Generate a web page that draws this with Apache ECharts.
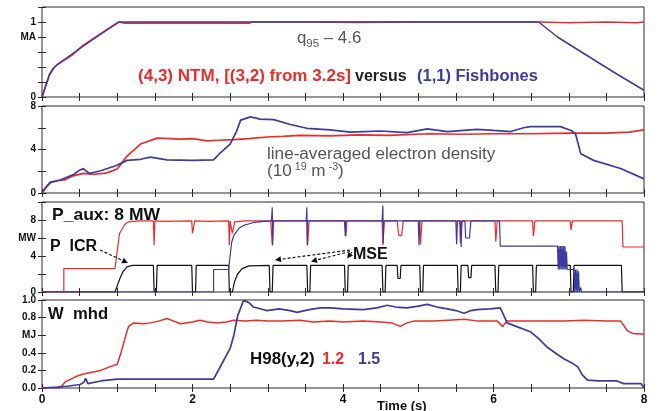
<!DOCTYPE html>
<html><head><meta charset="utf-8">
<script src="https://cdn.jsdelivr.net/npm/echarts@6/dist/echarts.min.js"></script>
<style>html,body{margin:0;padding:0;background:#fff}#c{width:659px;height:411px}</style>
</head><body><div id="c"></div>
<script>
// ---------- DATA ----------
const xTickLabels = [[0,'0'],[2,'2'],[4,'4'],[6,'6'],[8,'8']];
const yLabelsIp = [[0,'0'],[0.8,'MA'],[1,'1']];
const yLabelsNe = [[0,'0'],[4,'4'],[8,'8']];
const yLabelsP  = [[0,'0'],[4,'4'],[6,'MW'],[8,'8']];
const yLabelsW  = [[0,'0.0'],[0.2,'0.2'],[0.4,'0.4'],[0.6,'MJ'],[0.8,'0.8'],[1,'1.0']];

// Plasma current (MA)
const ipRed = [[0,0],[0.02,0.02],[0.06,0.18],[0.1,0.3],[0.15,0.38],[0.2,0.43],[0.4,0.56],[0.55,0.69],[0.7,0.79],[0.85,0.89],[1.02,1.0],[1.1,0.985],[1.8,0.985],[2.75,0.985],[2.8,1.0],[3.5,1.0],[4.2,0.995],[5.0,1.0],[6.0,1.0],[6.6,1.0],[7.0,0.99],[7.5,1.0],[7.9,0.99],[8,1.0]];
const ipBlue = [[0,0],[0.02,0.02],[0.06,0.18],[0.1,0.3],[0.15,0.38],[0.2,0.43],[0.55,0.68],[1.02,1.0],[2.0,1.0],[3.0,1.0],[4.0,1.0],[5.0,1.0],[6.0,1.0],[6.6,1.0],[6.85,0.8],[7.2,0.58],[7.6,0.33],[8,0.09]];

// Line-averaged electron density (1e19 m^-3)
const neRed = [[0,0],[0.05,0.5],[0.11,1.0],[0.22,1.15],[0.3,1.2],[0.4,1.55],[0.55,1.8],[0.69,1.7],[0.86,1.85],[1.0,2.2],[1.13,3.4],[1.31,4.5],[1.53,5.05],[1.7,5.0],[1.84,4.95],[2.0,5.0],[2.19,4.8],[2.35,4.85],[2.55,4.9],[2.75,5.0],[2.99,5.15],[3.2,5.2],[3.43,5.3],[3.83,5.25],[4.2,5.35],[4.6,5.3],[5.16,5.45],[5.6,5.4],[6.0,5.45],[6.49,5.45],[7.03,5.5],[7.5,5.5],[7.8,5.6],[8,5.8]];
const neBlue = [[0,0],[0.05,0.5],[0.11,0.95],[0.24,1.2],[0.42,1.7],[0.5,2.1],[0.55,2.25],[0.6,1.95],[0.64,1.8],[0.78,2.05],[0.98,2.5],[1.13,3.0],[1.31,3.1],[1.44,3.3],[1.66,3.05],[2.0,3.0],[2.28,3.05],[2.37,3.7],[2.5,4.5],[2.58,5.6],[2.64,6.7],[2.77,7.0],[2.9,6.8],[3.08,6.75],[3.3,6.3],[3.52,5.95],[3.83,5.8],[4.1,5.6],[4.5,5.7],[4.85,5.55],[5.12,5.9],[5.39,5.65],[5.78,5.85],[6.0,5.75],[6.23,5.65],[6.4,6.0],[6.49,6.1],[6.89,6.1],[7.03,5.75],[7.09,5.45],[7.16,3.6],[7.33,3.0],[7.69,2.25],[8,1.3]];

// Auxiliary heating power (MW)
const pauxRed = [[0,0],[0.29,0],[0.29,2.6],[0.97,2.6],[1.03,6.5],[1.1,7.5],[1.15,7.8],[1.3,7.9],[1.48,7.9],[1.49,5.2],[1.5,7.9],[1.6,7.85],[1.99,7.9],[2.0,6.5],[2.03,7.9],[2.2,7.85],[2.48,7.9],[2.49,5.2],[2.5,7.9],[2.53,6.5],[2.56,7.8],[2.7,7.9],[3.04,7.9],[3.06,5.2],[3.08,7.9],[3.52,7.9],[3.53,5.2],[3.55,7.9],[4.03,7.9],[4.04,6.2],[4.05,7.9],[4.52,7.9],[4.53,5.2],[4.55,7.9],[4.72,7.9],[4.74,6.3],[4.78,6.3],[4.8,7.9],[5.02,7.9],[5.03,5.3],[5.05,7.9],[5.55,7.9],[5.56,5.5],[5.58,7.9],[6.02,7.9],[6.03,5.6],[6.05,7.9],[6.52,7.9],[6.53,6.2],[6.55,7.9],[7.02,7.9],[7.03,6.9],[7.05,7.9],[7.71,7.9],[7.72,5.0],[8,5.0]];
const pauxBlue = [[0,0],[2.28,0],[2.28,2.5],[2.48,2.5],[2.52,5.5],[2.55,6.3],[2.62,7.1],[2.68,7.4],[2.8,7.7],[2.95,7.85],[3.05,7.9],[3.06,9.4],[3.065,5.2],[3.07,7.9],[3.51,7.9],[3.52,9.4],[3.525,5.2],[3.53,7.9],[4.02,7.9],[4.03,6.2],[4.04,7.9],[4.52,7.9],[4.53,9.6],[4.535,5.4],[4.54,7.9],[5.0,7.9],[5.01,5.2],[5.02,7.9],[5.5,7.9],[5.51,5.3],[5.52,7.9],[5.56,7.9],[5.57,5.0],[5.58,7.9],[5.62,7.9],[5.63,6.0],[5.68,6.0],[5.7,7.9],[6.08,7.9],[6.09,5.1],[6.85,5.1],[6.86,2.5],[6.87,5.1],[6.88,2.5],[6.89,5.1],[6.9,2.5],[6.91,5.1],[6.92,2.5],[6.93,5.1],[6.94,2.5],[6.95,5.1],[6.96,2.5],[6.97,4.5],[6.98,2.5],[7.07,2.5],[7.08,0],[7.09,2.5],[7.1,0],[7.11,2.5],[7.12,0],[7.13,2.3],[7.14,0],[7.16,0.5],[7.17,0],[8,0]];
const picr = [[0,0],[0.97,0],[1.0,0.7],[1.04,1.6],[1.08,2.3],[1.13,2.8],[1.2,2.95],[1.48,2.95],[1.49,0],[1.52,0],[1.53,2.95],[1.99,2.95],[2.0,0],[2.04,0],[2.05,2.95],[2.48,2.95],[2.49,0],[2.53,0],[2.56,1.2],[2.6,2.0],[2.66,2.6],[2.75,2.9],[3.02,2.95],[3.03,0],[3.06,0],[3.07,2.95],[3.52,2.95],[3.53,0],[3.56,0],[3.57,2.95],[4.02,2.95],[4.03,0],[4.06,0],[4.07,2.95],[4.52,2.95],[4.53,0],[4.56,0],[4.57,2.95],[4.72,2.95],[4.73,1.5],[4.76,1.5],[4.77,2.95],[5.02,2.95],[5.03,0],[5.06,0],[5.07,2.95],[5.52,2.95],[5.53,0],[5.56,0],[5.57,2.95],[5.66,2.95],[5.67,1.6],[5.7,1.6],[5.71,2.95],[6.02,2.95],[6.03,0],[6.06,0],[6.07,2.95],[6.52,2.95],[6.53,0],[6.56,0],[6.57,2.95],[7.02,2.95],[7.03,0],[7.06,0],[7.07,2.95],[7.7,2.95],[7.71,0],[8,0]];

// Stored energy W_mhd (MJ)
const wRed = [[0,0],[0.24,0],[0.31,0.07],[0.45,0.13],[0.55,0.16],[0.78,0.2],[0.9,0.24],[1.0,0.27],[1.06,0.43],[1.12,0.62],[1.15,0.7],[1.22,0.74],[1.35,0.73],[1.44,0.74],[1.55,0.76],[1.66,0.79],[1.75,0.76],[1.84,0.73],[2.0,0.75],[2.1,0.77],[2.2,0.75],[2.33,0.74],[2.45,0.75],[2.55,0.77],[2.7,0.76],[2.85,0.77],[2.99,0.76],[3.2,0.76],[3.43,0.77],[3.6,0.75],[3.83,0.76],[4.0,0.75],[4.27,0.76],[4.5,0.75],[4.65,0.74],[4.76,0.70],[4.85,0.74],[4.94,0.76],[5.2,0.76],[5.4,0.77],[5.61,0.78],[5.8,0.76],[6.05,0.76],[6.12,0.70],[6.18,0.76],[6.4,0.76],[6.7,0.76],[6.94,0.76],[7.2,0.77],[7.5,0.76],[7.69,0.76],[7.78,0.65],[7.85,0.62],[8,0.61]];
const wBlue = [[0,0],[0.2,0.01],[0.33,0.02],[0.51,0.04],[0.56,0.07],[0.58,0.11],[0.61,0.05],[0.78,0.08],[1.0,0.1],[1.5,0.1],[2.0,0.1],[2.28,0.1],[2.35,0.21],[2.5,0.45],[2.55,0.6],[2.6,0.82],[2.68,1.0],[2.75,0.97],[2.81,0.92],[2.9,0.9],[2.99,0.88],[3.15,0.9],[3.3,0.88],[3.39,0.86],[3.55,0.89],[3.7,0.91],[3.83,0.91],[4.0,0.9],[4.27,0.89],[4.45,0.91],[4.59,0.94],[4.7,0.92],[4.85,0.91],[5.0,0.93],[5.12,0.95],[5.25,0.92],[5.39,0.9],[5.5,0.88],[5.61,0.85],[5.7,0.88],[5.78,0.89],[5.95,0.9],[6.09,0.91],[6.15,0.8],[6.18,0.74],[6.3,0.7],[6.49,0.64],[6.6,0.56],[6.72,0.46],[6.85,0.38],[6.94,0.33],[7.05,0.28],[7.12,0.24],[7.18,0.15],[7.25,0.09],[7.4,0.08],[7.64,0.08],[7.73,0.05],[7.96,0.05],[8,0.0]];

// ---------- CHART ----------
const RED = '#ec2b2b', BLUE = '#3b3ba3', BLACK = '#111', FRAME = '#2a2a2a';
const FONT = 'Liberation Sans, Arial, Helvetica, sans-serif';
const chart = echarts.init(document.getElementById('c'), null, {renderer: 'canvas'});

const grids = [
  {left: 42, right: 15, top: 7, height: 90},
  {left: 42, right: 15, top: 106, height: 87},
  {left: 42, right: 15, top: 202, height: 90},
  {left: 42, right: 15, top: 300, height: 88}
].map(g => Object.assign({show: true, borderColor: FRAME, borderWidth: 1, backgroundColor: 'transparent'}, g));

function lookup(list, v) {
  for (const e of list) if (Math.abs(e[0] - v) < 1e-6) return e[1];
  return '';
}
const tick = {show: true, inside: true, length: 4, lineStyle: {color: FRAME, width: 1}};
const xAxes = [], yAxes = [];
for (let i = 0; i < 4; i++) {
  const last = i === 3;
  xAxes.push({type: 'value', gridIndex: i, min: 0, max: 8, interval: 0.5, position: 'bottom',
    axisLine: {show: false}, axisTick: tick, splitLine: {show: false},
    axisLabel: {show: last, formatter: v => lookup(xTickLabels, v), color: BLACK, fontSize: 12, fontFamily: FONT, margin: 6, fontWeight: 'bold'}});
  xAxes.push({type: 'value', gridIndex: i, min: 0, max: 8, interval: 0.5, position: 'top',
    axisLine: {show: false}, axisTick: tick, splitLine: {show: false}, axisLabel: {show: false}});
}
const ySpecs = [
  {min: 0, max: 1.2, interval: 0.2, labels: yLabelsIp},
  {min: 0, max: 8, interval: 2, labels: yLabelsNe},
  {min: 0, max: 10, interval: 2, labels: yLabelsP},
  {min: 0, max: 1, interval: 0.2, labels: yLabelsW}
];
ySpecs.forEach((s, i) => {
  yAxes.push({type: 'value', gridIndex: i, min: s.min, max: s.max, interval: s.interval, position: 'left',
    axisLine: {show: false}, axisTick: tick, splitLine: {show: false},
    axisLabel: {formatter: v => lookup(s.labels, v), color: BLACK, fontSize: 10, fontFamily: FONT, margin: 6, fontWeight: 'bold'}});
  yAxes.push({type: 'value', gridIndex: i, min: s.min, max: s.max, interval: s.interval, position: 'right',
    axisLine: {show: false}, axisTick: tick, splitLine: {show: false}, axisLabel: {show: false}});
});

function ser(data, gi, color, w) {
  return {type: 'line', data: data, xAxisIndex: gi * 2, yAxisIndex: gi * 2, showSymbol: false,
    lineStyle: {color: color, width: w || 1.4}, itemStyle: {color: color}, animation: false, silent: true, z: 3};
}
const series = [
  ser(ipRed, 0, RED, 1.7), ser(ipBlue, 0, BLUE, 1.5),
  ser(neRed, 1, RED, 1.7), ser(neBlue, 1, BLUE, 1.7),
  ser(picr, 2, BLACK, 1.2), ser(pauxRed, 2, RED, 1.2), ser(pauxBlue, 2, BLUE, 1.2),
  ser(wRed, 3, RED, 1.5), ser(wBlue, 3, BLUE, 1.7)
];

// annotation helpers (dashed arrows)
function arrow(x1, y1, x2, y2) {
  const a = Math.atan2(y2 - y1, x2 - x1), L = 6, W = 3;
  const bx = x2 - L * Math.cos(a), by = y2 - L * Math.sin(a);
  const px = -Math.sin(a) * W, py = Math.cos(a) * W;
  return [
    {type: 'line', shape: {x1: x1, y1: y1, x2: bx, y2: by}, style: {stroke: BLACK, lineWidth: 1.2, lineDash: [3, 2]}, z: 10},
    {type: 'polygon', shape: {points: [[x2, y2], [bx + px, by + py], [bx - px, by - py]]}, style: {fill: BLACK}, z: 10}
  ];
}
function txt(x, y, text, style, sx) {
  return {type: 'text', x: x, y: y, scaleX: sx || 1, z: 20, style: Object.assign({text: text, fontFamily: FONT, verticalAlign: 'middle', align: 'left'}, style)};
}
const bold16 = c => ({fontSize: 16, fontWeight: 'bold', fill: c});

const graphics = [
  txt(297, 39, '{q|q}{s|95}{q| – 4.6}', {rich: {q: {fontSize: 16, fill: '#555', fontFamily: FONT}, s: {fontSize: 11, fill: '#555', padding: [9, 0, 0, 0], fontFamily: FONT}}}, 1.05),
  txt(138, 77, '(4,3) NTM, [(3,2) from 3.2s]', bold16(RED), 1.065),
  txt(355, 77, 'versus', bold16('#222'), 1.0),
  txt(417, 77, '(1,1) Fishbones', bold16(BLUE), 1.03),
  txt(267, 155, 'line-averaged electron density', {fontSize: 16, fill: '#555'}, 1.07),
  txt(267, 172, '{a|(10}{s| 19}{a| m}{s| -3}{a|)}', {rich: {a: {fontSize: 16, fill: '#555', fontFamily: FONT}, s: {fontSize: 10, fill: '#555', padding: [0, 0, 9, 0], fontFamily: FONT}}}, 1.07),
  txt(52, 215, 'P_aux: 8 MW', {fontSize: 17, fill: BLACK, fontWeight: 'bold'}, 1.03),
  txt(50, 247, 'P  ICR', {fontSize: 16, fill: BLACK, fontWeight: 'bold'}),
  txt(353, 255, 'MSE', {fontSize: 16, fill: BLACK, fontWeight: 'bold'}),
  txt(48, 315, 'W  mhd', {fontSize: 16, fill: BLACK, fontWeight: 'bold'}, 1.04),
  txt(250, 360, 'H98(y,2)', bold16('#111'), 1.06),
  txt(322, 360, '1.2', bold16(RED), 1.0),
  txt(358, 360, '1.5', bold16(BLUE), 1.0),
  txt(377, 406, 'Time (s)', {fontSize: 13, fill: BLACK, fontWeight: 'bold'})
].concat(arrow(100, 250, 128, 263), arrow(350, 250, 275, 260), arrow(350, 251.5, 311, 261.5), arrow(352, 252, 347, 258.5));

chart.setOption({
  animation: false,
  backgroundColor: '#fff',
  grid: grids,
  xAxis: xAxes,
  yAxis: yAxes,
  series: series,
  graphic: graphics
});
</script></body></html>
